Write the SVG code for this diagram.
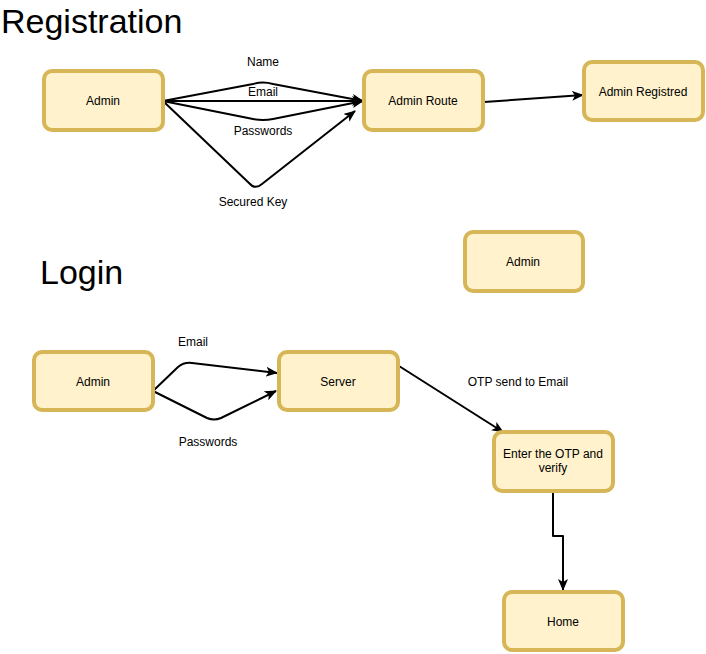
<svg xmlns="http://www.w3.org/2000/svg" width="706" height="654" viewBox="0 0 706 654">
<style>
.n{fill:#fff2cc;stroke:#d6b656;stroke-width:4}
.t{font-family:"Liberation Sans",Arial,sans-serif;font-size:12px;fill:#000;text-anchor:middle}
.h{font-family:"Liberation Sans",Arial,sans-serif;font-size:34px;fill:#000}
.e{fill:none;stroke:#000;stroke-width:2;stroke-linejoin:round}
</style>
<defs>
<marker id="a" markerUnits="userSpaceOnUse" markerWidth="12" markerHeight="10" refX="11" refY="5" orient="auto" viewBox="0 0 12 10">
<path d="M0,0 L12,5 L0,10 L3,5 Z" fill="#000"/>
</marker>
</defs>
<rect width="706" height="654" fill="#fff"/>
<text class="h" x="1" y="33">Registration</text>
<text class="h" x="40" y="284">Login</text>
<g id="connectors">
<path class="e" d="M163,101 L253,84 Q263,81 273,84 L363,101" marker-end="url(#a)"/>
<path class="e" d="M163,101 L363,101" marker-end="url(#a)"/>
<path class="e" d="M163,101 L253,119 Q263,121 273,119 L363,101" marker-end="url(#a)"/>
<path class="e" d="M163,101 L249,183 Q255,190 262,184 L355,111" marker-end="url(#a)"/>
<path class="e" d="M484,102 L583,95" marker-end="url(#a)"/>
<path class="e" d="M153,391 L178,367 Q184,362 192,363 L277,373" marker-end="url(#a)"/>
<path class="e" d="M153,391 L207,418 Q214,421 221,418 L276,391" marker-end="url(#a)"/>
<path class="e" d="M399,366 L503,432" marker-end="url(#a)"/>
<path class="e" d="M553,491 L553,536 L563,536 L563,590" marker-end="url(#a)"/>
</g>
<g id="labels">
<text class="t" x="263" y="66">Name</text>
<text class="t" x="263" y="96">Email</text>
<text class="t" x="263" y="135">Passwords</text>
<text class="t" x="253" y="206">Secured Key</text>
<text class="t" x="193" y="346">Email</text>
<text class="t" x="208" y="446">Passwords</text>
<text class="t" x="518" y="386">OTP send to Email</text>
</g>
<g id="admin1"><rect class="n" x="44" y="71" width="119" height="59" rx="8"/><text class="t" x="103" y="105">Admin</text></g>
<g id="adminRoute"><rect class="n" x="364" y="71" width="119" height="59" rx="8"/><text class="t" x="423" y="105">Admin Route</text></g>
<g id="adminRegistred"><rect class="n" x="584" y="62" width="119" height="58" rx="8"/><text class="t" x="643" y="96">Admin Registred</text></g>
<g id="admin2"><rect class="n" x="465" y="232" width="118" height="59" rx="8"/><text class="t" x="523" y="266">Admin</text></g>
<g id="admin3"><rect class="n" x="34" y="352" width="119" height="58" rx="8"/><text class="t" x="93" y="386">Admin</text></g>
<g id="server"><rect class="n" x="279" y="352" width="119" height="58" rx="8"/><text class="t" x="338" y="386">Server</text></g>
<g id="otp"><rect class="n" x="494" y="432" width="119" height="59" rx="8"/><text class="t" x="553" y="458">Enter the OTP and</text><text class="t" x="553" y="472">verify</text></g>
<g id="home"><rect class="n" x="504" y="592" width="119" height="58" rx="8"/><text class="t" x="563" y="626">Home</text></g>
</svg>
